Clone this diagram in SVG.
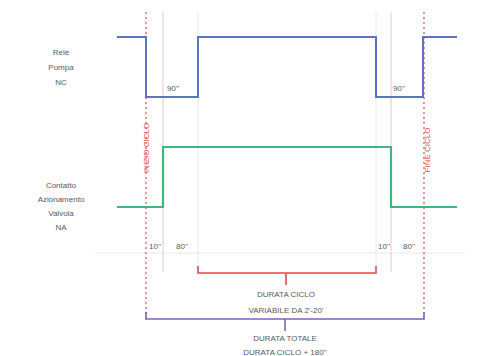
<svg xmlns="http://www.w3.org/2000/svg" width="477" height="356" viewBox="0 0 477 356">
<style>
text{font-family:"Liberation Sans",Arial,sans-serif;font-size:8px;fill:#595959;text-anchor:middle}
.guide{stroke:#f2c4c4;stroke-width:1;fill:none}
.faint{stroke:#ece6e6;stroke-width:1;fill:none}
.dot{stroke:#e8474a;stroke-width:1.2;stroke-dasharray:2 3;fill:none}
.blue{stroke:#5b74c6;stroke-width:2;fill:none}
.green{stroke:#3fb57f;stroke-width:2.2;fill:none}
.red{stroke:#e8474a;stroke-width:1.6;fill:none}
.purple{stroke:#7b62c4;stroke-width:1.6;fill:none}
.rt{fill:#e8474a}
</style>
<rect width="477" height="356" fill="#fff"/>
<g id="guides">
<line class="faint" x1="95" y1="253" x2="465" y2="253"/>
<line class="guide" x1="163" y1="12" x2="163" y2="272"/>
<line class="faint" x1="198" y1="12" x2="198" y2="266"/>
<line class="faint" x1="376" y1="12" x2="376" y2="266"/>
<line class="guide" x1="391" y1="12" x2="391" y2="272"/>
</g>
<g id="connectors">
<line class="dot" x1="146" y1="12" x2="146" y2="318"/>
<line class="dot" x1="424" y1="12" x2="424" y2="318"/>
<polyline class="blue" points="117,37 146,37 146,97 198,97 198,37 376,37 376,97 423,97 423,37 457,37"/>
<polyline class="green" points="117,207 163,207 163,147 391,147 391,207 457,207"/>
<polyline class="red" points="198,266 198,273 376,273 376,266"/>
<line class="red" x1="286" y1="273" x2="286" y2="285"/>
<polyline class="purple" points="146,312 146,319 424,319 424,312"/>
<line class="purple" x1="285" y1="319" x2="285" y2="331"/>
</g>
<g id="rele">
<text x="61" y="55">Relè</text>
<text x="61" y="70">Pompa</text>
<text x="61" y="85">NC</text>
</g>
<g id="contatto">
<text x="61" y="188">Contatto</text>
<text x="61" y="202">Azionamento</text>
<text x="61" y="216">Valvola</text>
<text x="61" y="230">NA</text>
</g>
<g id="times">
<text x="173" y="91">90''</text>
<text x="399" y="91">90''</text>
<text x="155" y="249">10''</text>
<text x="182" y="249">80''</text>
<text x="384" y="249">10''</text>
<text x="409" y="249">80''</text>
</g>
<g id="inizio">
<text class="rt" transform="translate(146,148) rotate(-90)" dy="3">INIZIO CICLO</text>
</g>
<g id="fine">
<text class="rt" transform="translate(427,150) rotate(-90)" dy="3">FINE CICLO</text>
</g>
<g id="durata-ciclo">
<text x="286" y="297">DURATA CICLO</text>
<text x="286" y="313">VARIABILE DA 2'-20'</text>
</g>
<g id="durata-totale">
<text x="285" y="341">DURATA TOTALE</text>
<text x="285" y="355">DURATA CICLO + 180''</text>
</g>
</svg>
